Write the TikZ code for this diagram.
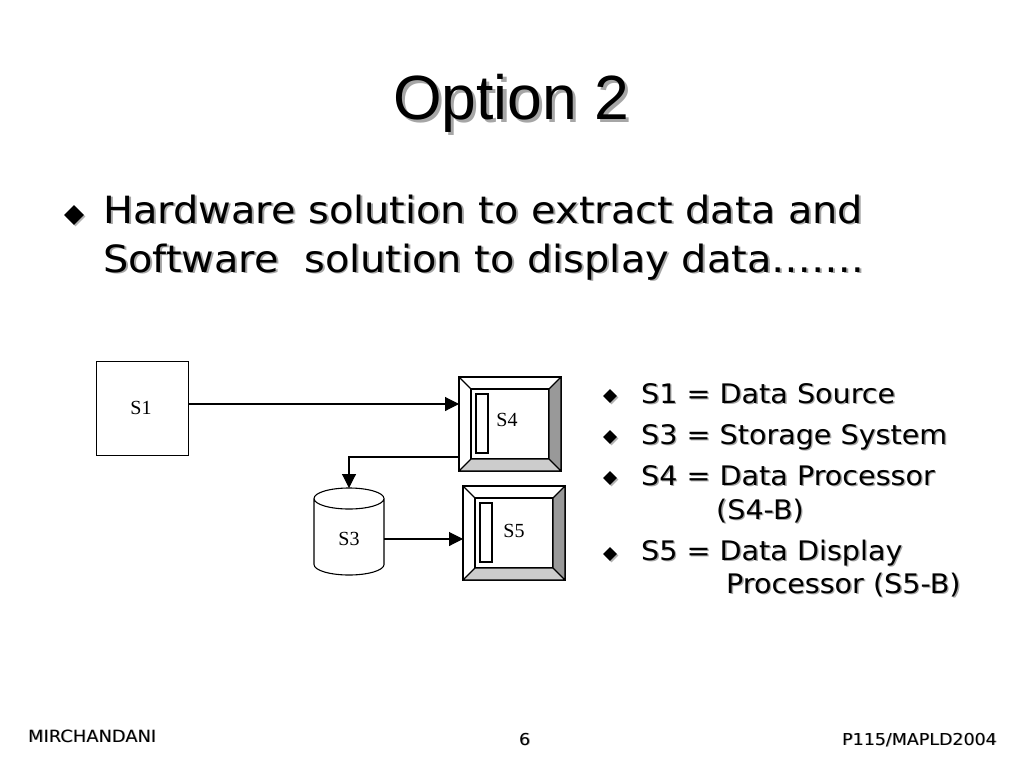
\documentclass[tikz,border=0pt]{standalone}
\usepackage{fontspec}
\setmainfont[FakeStretch=1.063]{DejaVu Sans}
\newfontfamily\titlefont{Liberation Sans}
\newfontfamily\labelfont{Liberation Serif}
\usetikzlibrary{arrows.meta, shapes.geometric, shadows}
\newcommand{\shadowed}[1]{\makebox[0pt][l]{\kern0.05em\raisebox{-0.05em}{\textcolor{black!35}{#1}}}#1}
\tikzset{
    x=1pt, y=-1pt, % one unit is one pixel of the slide
    >={Triangle[length=14pt, width=14pt]}, % filled arrow heads
    flow/.style={->, line width=1.1pt},
    outline/.style={draw, line width=1.1pt, inner sep=0pt, outer sep=0pt},
    source/.style={outline, line width=0.9pt, minimum width=92pt, minimum height=94pt},
    panel/.style={outline, minimum width=102pt, minimum height=94pt},
    face/.style={outline, fill=white, minimum width=78pt, minimum height=70pt},
    slot/.style={outline, minimum width=12pt, minimum height=59pt},
    store/.style={inner sep=0pt, outer sep=0pt, minimum width=70pt, minimum height=87pt},
    tag/.style={font=\labelfont\fontsize{20}{20}\selectfont, inner sep=0pt},
    slidetext/.style={anchor=base west, inner sep=0pt},
    bullet/.style={diamond, fill=black, inner sep=0pt, minimum size=#1, drop shadow={shadow xshift=1.5pt, shadow yshift=-1.5pt, fill=black!30, opacity=1}},
}
\begin{document}
\begin{tikzpicture}
    \useasboundingbox[fill=white] (0,0) rectangle (1024,768);

    \node[slidetext, font=\titlefont\fontsize{62.5}{62.5}\selectfont] (title) at (393,119) {\shadowed{Option 2}};

    \node[bullet=20pt] (b0) at (74,215) {};
    \node[slidetext, font=\fontsize{37.5}{37.5}\selectfont] (line1) at (103,223) {\shadowed{Hardware solution to extract data and}};
    \node[slidetext, font=\fontsize{37.5}{37.5}\selectfont] (line2) at (103,272) {\shadowed{Software\ \ solution to display data…….}};

    % diagram
    \node[source] (s1) at (142,408) {};
    \node[tag] (s1t) at (141,408) {S1};
    \foreach \name/\px/\py in {s4/510/424, s5/514/533} {
        \node[panel] (\name) at (\px,\py) {};
        \node[face] (\name f) at (\px,\py) {};
        \fill[black!40] (\name.north east) -- (\name f.north east) -- (\name f.south east) -- (\name.south east) -- cycle;
        \fill[black!20] (\name.south west) -- (\name f.south west) -- (\name f.south east) -- (\name.south east) -- cycle;
        \draw[line width=1.1pt] (\name.north west) -- (\name f.north west)
            (\name.north east) -- (\name f.north east)
            (\name.south west) -- (\name f.south west)
            (\name.south east) -- (\name f.south east)
            (\name.north west) rectangle (\name.south east)
            (\name f.north west) rectangle (\name f.south east);
        \node[slot, anchor=north west] (\name s) at ([xshift=5pt, yshift=-5pt]\name f.north west) {};
    }
    \node[tag] (s4t) at (507,420) {S4};
    \node[tag] (s5t) at (514,531) {S5};
    \node[store] (s3) at (349,531.5) {};
    \draw[line width=1.1pt] ([yshift=-10.5pt]s3.north west) arc[x radius=35pt, y radius=10.5pt, start angle=180, end angle=0]
        -- ([yshift=10.5pt]s3.south east) arc[x radius=35pt, y radius=10.5pt, start angle=0, end angle=-180] -- cycle
        ([yshift=-10.5pt]s3.north west) arc[x radius=35pt, y radius=10.5pt, start angle=180, end angle=360];
    \node[tag] (s3t) at (349,539) {S3};

    \draw[flow] ([yshift=4pt]s1.east) -- ([yshift=20pt]s4.west);
    \draw[flow] ([yshift=-33pt]s4.west) -| (s3.north);
    \draw[flow] ([yshift=-7.5pt]s3.east) -- ([yshift=-6pt]s5.west);

    % legend
    \foreach \name/\py in {k1/396, k2/437, k3/478, k4/554} {
        \node[bullet=14pt] (\name) at (610,\py) {};
    }
    \foreach \name/\px/\py/\txt in {t1/641/403/S1 = Data Source, t2/641/444/S3 = Storage System, t3/641/485/S4 = Data Processor, t4/716/519/(S4-B), t5/641/560/S5 = Data Display, t6/726/593/Processor (S5-B)} {
        \node[slidetext, font=\fontsize{26.9}{26.9}\selectfont] (\name) at (\px,\py) {\shadowed{\txt}};
    }

    % footer
    \node[slidetext, font=\fontsize{16.8}{16.8}\selectfont] (foot1) at (28,742) {\shadowed{MIRCHANDANI}};
    \node[slidetext, font=\fontsize{16.4}{16.4}\selectfont] (foot2) at (519,745) {\shadowed{6}};
    \node[slidetext, font=\fontsize{16.4}{16.4}\selectfont] (foot3) at (842,745) {\shadowed{P115/MAPLD2004}};
\end{tikzpicture}
\end{document}
